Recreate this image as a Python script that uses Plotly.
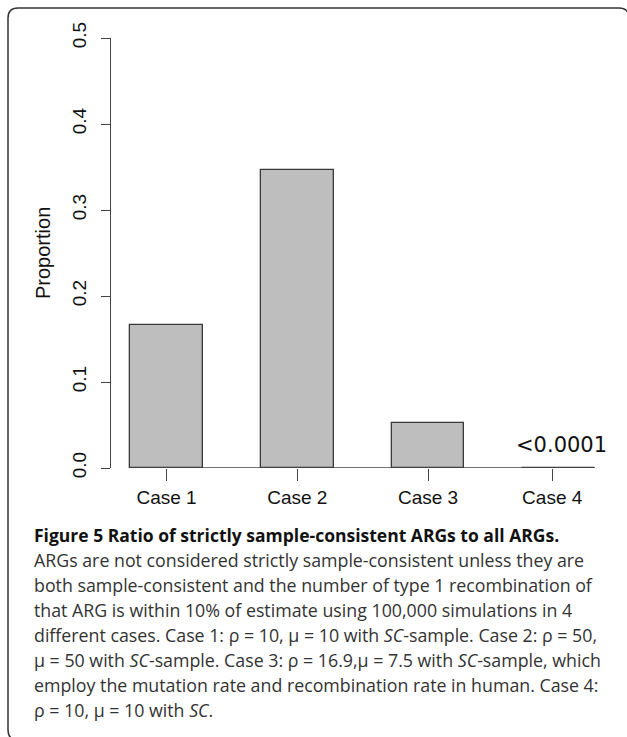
import plotly.graph_objects as go

# ---- data ----
categories = ["Case 1", "Case 2", "Case 3", "Case 4"]
proportions = [0.166, 0.347, 0.052, 0.0]
bar4_label = "<0.0001"
y_ticks = [0.0, 0.1, 0.2, 0.3, 0.4, 0.5]
y_title = "Proportion"
caption_title = "Figure 5 Ratio of strictly sample-consistent ARGs to all ARGs."
caption_lines = [
    "ARGs are not considered strictly sample-consistent unless they are",
    "both sample-consistent and the number of type 1 recombination of",
    "that ARG is within 10% of estimate using 100,000 simulations in 4",
    "different cases. Case 1: ρ = 10, μ = 10 with <i>SC</i>-sample. Case 2: ρ = 50,",
    "μ = 50 with <i>SC</i>-sample. Case 3: ρ = 16.9,μ = 7.5 with <i>SC</i>-sample, which",
    "employ the mutation rate and recombination rate in human. Case 4:",
    "ρ = 10, μ = 10 with <i>SC</i>.",
]

# ---- layout geometry (pixels) ----
W, H = 627, 737
L, R, T, B = 111, 620, 38, 468
PW, PH = R - L, B - T
def px(x):
    return (x - L) / PW
def py(y):
    return (B - y) / PH

xpos = list(range(len(categories)))
bar_w = 0.555
unit = 130.75
x0 = -(166.5 - L) / unit
x1 = x0 + PW / unit

fig = go.Figure()
fig.add_trace(go.Bar(
    x=xpos, y=proportions, width=bar_w,
    marker=dict(color="#bebebe", line=dict(color="#3a3a3a", width=1.3)),
    showlegend=False, hoverinfo="skip",
))

# baseline along y = 0 from first bar edge to last bar edge
fig.add_shape(type="line", xref="x", yref="y",
              x0=xpos[0] - bar_w / 2, x1=xpos[-1] + bar_w / 2, y0=0, y1=0,
              line=dict(color="#444444", width=1.3))

# label above the last bar
fig.add_annotation(x=xpos[-1], y=proportions[-1], xref="x", yref="y",
                   text=bar4_label, showarrow=False, yanchor="bottom",
                   xshift=3, yshift=9,
                   font=dict(family="DejaVu Sans", size=21, color="#111111"))

# y-axis title
fig.add_annotation(x=px(43), y=py(253), xref="paper", yref="paper",
                   text=y_title, textangle=-90, showarrow=False,
                   xanchor="center", yanchor="middle",
                   font=dict(family="Liberation Sans, Arial", size=20, color="#111111"))

# caption
fig.add_annotation(x=px(32), y=py(535), xref="paper", yref="paper",
                   text="<b>" + caption_title + "</b>", showarrow=False,
                   xanchor="left", yanchor="middle",
                   font=dict(family="Open Sans", size=17.5, color="#111111"))
cap_font = dict(family="Open Sans", size=17.8, color="#333333")
for i, line in enumerate(caption_lines):
    fig.add_annotation(x=px(32), y=py(560 + 25 * i), xref="paper", yref="paper",
                       text=line, showarrow=False, xanchor="left", yanchor="middle",
                       font=cap_font)

# rounded frame (open on the right and bottom edges of the image)
r = 10
fl, ft, fr, fb = 8, 8, 629, 740
path = (f"M {px(fr)},{py(ft + r + 40)} L {px(fr)},{py(ft + r)} "
        f"Q {px(fr)},{py(ft)} {px(fr - r)},{py(ft)} "
        f"L {px(fl + r)},{py(ft)} Q {px(fl)},{py(ft)} {px(fl)},{py(ft + r)} "
        f"L {px(fl)},{py(fb - r)} Q {px(fl)},{py(fb)} {px(fl + r)},{py(fb)} "
        f"L {px(fl + 60)},{py(fb)}")
fig.add_shape(type="path", xref="paper", yref="paper", path=path,
              line=dict(color="#333333", width=1.5))

tick_font = dict(family="Liberation Sans, Arial", size=19, color="#111111")
fig.update_layout(
    width=W, height=H,
    margin=dict(l=L, r=W - R, t=T, b=H - B, pad=0),
    paper_bgcolor="white", plot_bgcolor="white",
    bargap=0,
    xaxis=dict(range=[x0, x1], tickmode="array",
               tickvals=[xpos[0], xpos[1], xpos[2], xpos[3] - 0.05],
               ticktext=categories, ticks="outside", ticklen=12,
               tickcolor="#444444", tickwidth=1.2, showline=False,
               showgrid=False, zeroline=False, tickfont=tick_font),
    yaxis=dict(range=[0, 0.5], tickmode="array", tickvals=y_ticks,
               ticktext=[f"{v:.1f}" for v in y_ticks],
               ticks="outside", ticklen=9, tickcolor="#444444", tickwidth=1.2,
               showline=True, linecolor="#444444", linewidth=1.2,
               tickangle=-90, showgrid=False, zeroline=False,
               tickfont=tick_font, ticklabelstandoff=7),
)

fig.write_html("out.html", config={"displayModeBar": False},
               post_script="document.body.style.margin='0';document.body.style.padding='0';")
